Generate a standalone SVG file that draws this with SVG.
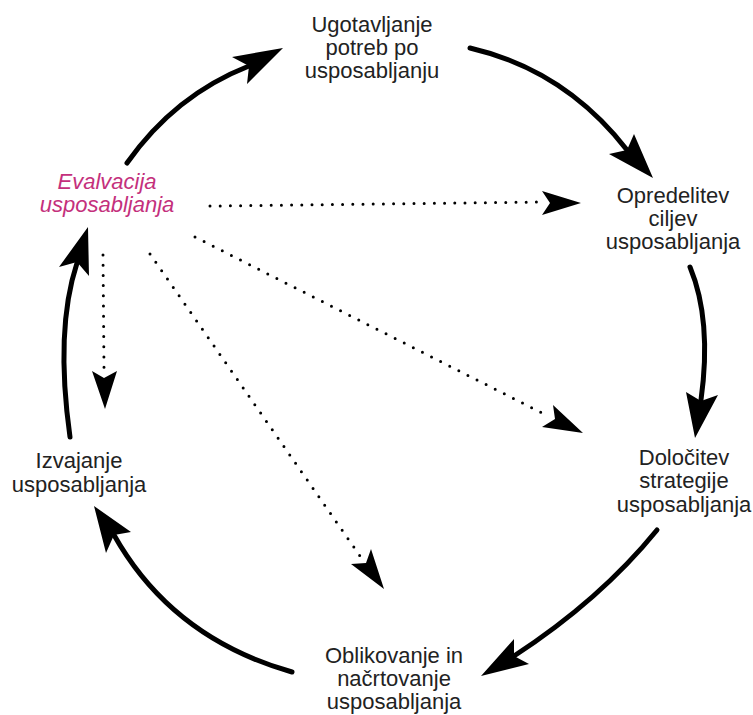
<svg xmlns="http://www.w3.org/2000/svg" width="753" height="715" viewBox="0 0 753 715">
<style>
text{font-family:"Liberation Sans",Arial,sans-serif;font-size:22px;fill:#222;text-anchor:middle}
.eval{fill:#c4307c;font-style:italic}
.solid{fill:none;stroke:#000;stroke-width:5;stroke-linecap:round}
.dot{fill:none;stroke:#000;stroke-width:3;stroke-linecap:round;stroke-dasharray:0 10.2}
.head{fill:#000;stroke:none}
</style>
<rect width="753" height="715" fill="#fff"/>
<g id="n-ugotavljanje">
<text x="372" y="32">Ugotavljanje</text>
<text x="372" y="55">potreb po</text>
<text x="372" y="78">usposabljanju</text>
</g>
<g id="n-opredelitev">
<text x="673" y="203">Opredelitev</text>
<text x="673" y="226">ciljev</text>
<text x="673" y="249">usposabljanja</text>
</g>
<g id="n-dolocitev">
<text x="684" y="465">Določitev</text>
<text x="684" y="488">strategije</text>
<text x="684" y="512">usposabljanja</text>
</g>
<g id="n-oblikovanje">
<text x="394" y="663">Oblikovanje in</text>
<text x="394" y="686">načrtovanje</text>
<text x="394" y="709">usposabljanja</text>
</g>
<g id="n-izvajanje">
<text x="79" y="468">Izvajanje</text>
<text x="79" y="492">usposabljanja</text>
</g>
<g id="n-evalvacija">
<text class="eval" x="107" y="189">Evalvacija</text>
<text class="eval" x="107" y="212">usposabljanja</text>
</g>
<g id="connectors">
<path class="solid" d="M127,163 Q175,95 249,66"/>
<polygon class="head" points="283,48 232,57 249,66 247,84"/>
<path class="solid" d="M470,48 Q565,70 627,150"/>
<polygon class="head" points="653,178 609,154 627,150 634,134"/>
<path class="solid" d="M690,267 Q712,320 701,400"/>
<polygon class="head" points="695,438 686,392 701,401 718,395"/>
<path class="solid" d="M657,530 Q600,600 514,656"/>
<polygon class="head" points="481,676 514,639 514,656 529,664"/>
<path class="solid" d="M292,672 Q172,638 114,535"/>
<polygon class="head" points="94,506 106,553 114,535 131,532"/>
<path class="solid" d="M70,437 Q55,330 77,263"/>
<polygon class="head" points="88,227 59,267 77,262 89,276"/>
<path class="dot" d="M210,206 L542,202"/>
<polygon class="head" points="581,203 542,191 550,203 542,215"/>
<path class="dot" d="M195,237 L548,416"/>
<polygon class="head" points="583,433 542,427 555,419 553,405"/>
<path class="dot" d="M150,254 L360,556"/>
<polygon class="head" points="384,589 351,564 366,563 371,549"/>
<path class="dot" d="M103,255 L104,368"/>
<polygon class="head" points="105,409 92,371 104,378 117,371"/>
</g>
</svg>
